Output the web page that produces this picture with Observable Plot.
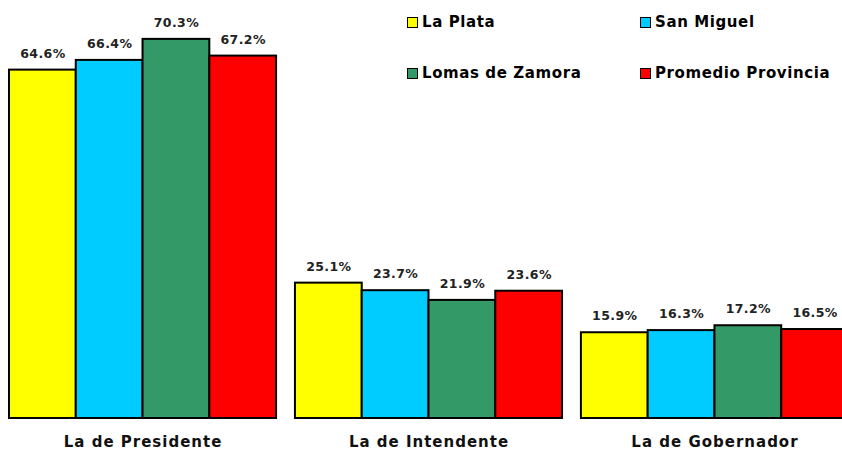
<!DOCTYPE html>
<html>
<head>
<meta charset="utf-8">
<script src="https://cdn.jsdelivr.net/npm/d3@7"></script>
<script src="https://cdn.jsdelivr.net/npm/@observablehq/plot@0.6"></script>
<style>
  html, body { margin: 0; padding: 0; background: #fff; overflow: hidden; }
  #wrap { position: relative; width: 842px; height: 450px; overflow: hidden; }
  #legend { position: absolute; left: 0; top: 0; font-family: "DejaVu Sans", Verdana, sans-serif; font-weight: bold; font-size: 15px; letter-spacing: 0.6px; color: #000; }
  .li { position: absolute; display: flex; align-items: center; white-space: nowrap; }
  .sw { width: 9px; height: 9px; border: 1.5px solid #000; margin-right: 4px; }
  g[aria-label="fx-axis tick label"] text { letter-spacing: 1px; }
  g.vlabels text { letter-spacing: 0.4px; }
</style>
</head>
<body>
<div id="wrap"><div id="legend"></div></div>
<script>
const categories = ["La de Presidente", "La de Intendente", "La de Gobernador"];
const series = ["La Plata", "San Miguel", "Lomas de Zamora", "Promedio Provincia"];
const colors = ["#ffff00", "#00ccff", "#339966", "#ff0000"];
const laPlata = [64.6, 25.1, 15.9];
const sanMiguel = [66.4, 23.7, 16.3];
const lomas = [70.3, 21.9, 17.2];
const promedio = [67.2, 23.6, 16.5];

const valuesBySeries = [laPlata, sanMiguel, lomas, promedio];
const data = [];
categories.forEach((c, i) => {
  series.forEach((s, j) => {
    data.push({category: c, series: s, value: valuesBySeries[j][i]});
  });
});

const font = "'DejaVu Sans', Verdana, sans-serif";

const chart = Plot.plot({
  width: 848,
  height: 450,
  marginLeft: 9,
  marginRight: 0,
  marginTop: 20,
  marginBottom: 32,
  style: {fontFamily: font, background: "transparent", overflow: "visible", maxWidth: "none"},
  fx: {domain: categories, paddingInner: 0.066, paddingOuter: 0, round: false, label: null},
  x: {domain: series, axis: null, padding: 0, round: false},
  y: {domain: [0, 73.8], axis: null},
  color: {domain: series, range: colors},
  marks: [
    Plot.barY(data, {fx: "category", x: "series", y: "value", fill: "series", stroke: "#000", strokeWidth: 2, inset: 0}),
    Plot.text(data, {fx: "category", x: "series", y: "value", text: d => d.value.toFixed(1) + "%", dy: -16.5, fontSize: 12.5, fontWeight: "bold", fill: "#222", className: "vlabels"}),
    Plot.axisFx({anchor: "bottom", tickSize: 0, tickPadding: 18, fontSize: 15, fontWeight: "bold", label: null, fill: "#111"})
  ]
});
document.getElementById("wrap").prepend(chart);
chart.style.position = "absolute";
chart.style.left = "0";
chart.style.top = "0";
chart.style.maxWidth = "none";

const legend = document.getElementById("legend");
const pos = [[407, 22], [640, 22], [407, 73], [640, 73]];
series.forEach((s, i) => {
  const el = document.createElement("div");
  el.className = "li";
  el.style.left = pos[i][0] + "px";
  el.style.top = (pos[i][1] - 9) + "px";
  el.style.height = "18px";
  const sw = document.createElement("div");
  sw.className = "sw";
  sw.style.background = colors[i];
  el.appendChild(sw);
  el.appendChild(document.createTextNode(s));
  legend.appendChild(el);
});
</script>
</body>
</html>
